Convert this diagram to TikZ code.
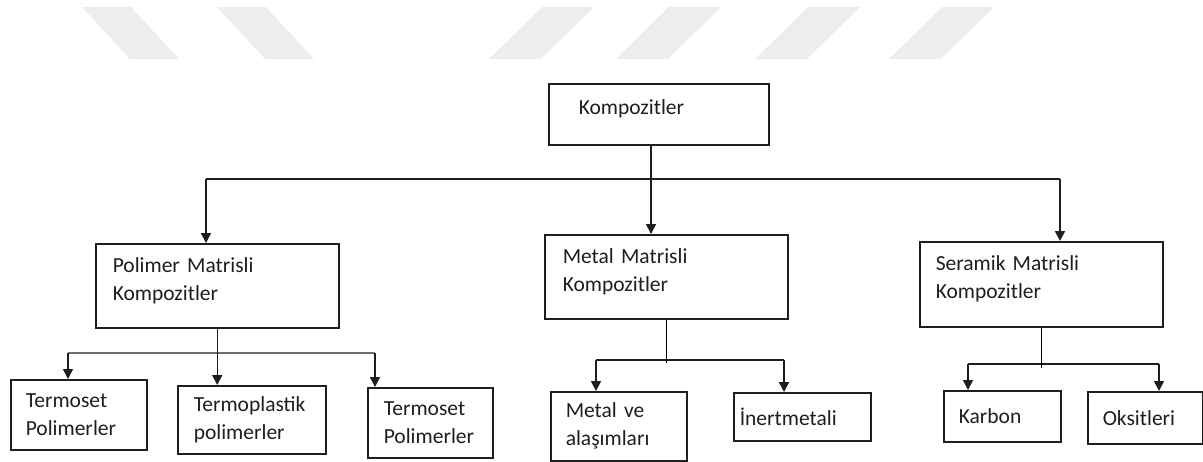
\documentclass[tikz,border=0pt]{standalone}
\usepackage{fontspec}
\setmainfont{Carlito}
\usetikzlibrary{arrows.meta, calc}
\definecolor{cline}{HTML}{1E1E1E}
\definecolor{cbus}{HTML}{6E6E6E}
\definecolor{cmark}{HTML}{EDEDED}
\tikzset{
  every picture/.style={x=1pt, y=-1pt, line width=1.5pt},
  box/.style={draw=cline, anchor=north west, align=left, text=cline, inner ysep=0pt,
    font=\fontsize{21.5}{28}\selectfont},
  arr/.style={-{Triangle[length=10pt, width=10pt]}, draw=cline},
  bus/.style={draw=cline},
}

\begin{document}
\begin{tikzpicture}
  \useasboundingbox (0,0) rectangle (1203,461);
  % faint stripes along the top edge
  \foreach \a in {82,217} \fill[cmark] (\a,7) -- ++(49,0) -- ++(48,52) -- ++(-49,0) -- cycle;
  \foreach \a in {542,669,808,942} \fill[cmark] (\a,7) -- ++(52,0) -- ++(-53,52) -- ++(-52,0) -- cycle;

  \node[box, text width=160pt, inner xsep=30pt, minimum height=61pt, text depth=15pt] (komp) at (548,83) {Kompozitler};
  \node[box, text width=209pt, inner xsep=17pt, minimum height=84pt, text depth=42pt] (poly) at (95,243) {Polimer Matrisli\\Kompozitler};
  \node[box, text width=207pt, inner xsep=18pt, minimum height=84pt, text depth=42pt] (metal) at (544,234) {Metal Matrisli\\Kompozitler};
  \node[box, text width=211pt, inner xsep=16pt, minimum height=85pt, text depth=42pt] (seram) at (919,241) {Seramik Matrisli\\Kompozitler};
  \node[box, text width=106pt, inner xsep=15pt, minimum height=70pt] (tset1) at (10,379) {Termoset\\Polimerler};
  \node[box, text width=116pt, inner xsep=16pt, minimum height=68pt] (tplast) at (177,385) {Termoplastik\\polimerler};
  \node[box, text width=93pt, inner xsep=16pt, minimum height=70pt] (tset2) at (367,387) {Termoset\\Polimerler};
  \node[box, text width=106pt, inner xsep=15pt, minimum height=69pt] (alas) at (550,391) {Metal ve\\alaşımları};
  \node[box, text width=125pt, inner xsep=6pt, minimum height=48pt] (inert) at (733,392) {İnertmetali};
  \node[box, text width=87pt, inner xsep=15pt, minimum height=51pt] (karb) at (943,390) {Karbon};
  \node[box, text width=85pt, inner xsep=15pt, minimum height=52pt] (oks) at (1087,391) {Oksitleri};

  % first level
  \coordinate (top) at (651,179);
  \coordinate (topL) at (206,179);
  \coordinate (topR) at (1060,179);
  \draw[bus] (topL) -- (topR);
  \draw[arr] (top |- komp.south) -- (top |- metal.north);
  \draw[arr] (topL) -- (topL |- poly.north);
  \draw[arr] (topR) -- (topR |- seram.north);

  % polymer branch
  \coordinate (pL) at (68,353);
  \coordinate (pR) at (375,353);
  \draw[bus, draw=cbus] (pL) -- (pR);
  \draw[arr] (poly.south) -- (poly.south |- tplast.north);
  \draw[arr] (pL) -- (pL |- tset1.north);
  \draw[arr] (pR) -- (pR |- tset2.north);

  % metal branch
  \coordinate (mL) at (596,360);
  \coordinate (mR) at (784,360);
  \draw[bus] (mL) -- (mR);
  \draw (metal.south) -- ($(metal.south |- mL)+(0,3)$);
  \draw[arr] (mL) -- (mL |- alas.north);
  \draw[arr] (mR) -- (mR |- inert.north);

  % ceramic branch
  \coordinate (sL) at (968,364);
  \coordinate (sR) at (1159,364);
  \draw[bus] (sL) -- (sR);
  \draw (seram.south) -- ($(seram.south |- sL)+(0,4)$);
  \draw[arr] (sL) -- (sL |- karb.north);
  \draw[arr] (sR) -- (sR |- oks.north);
\end{tikzpicture}
\end{document}
